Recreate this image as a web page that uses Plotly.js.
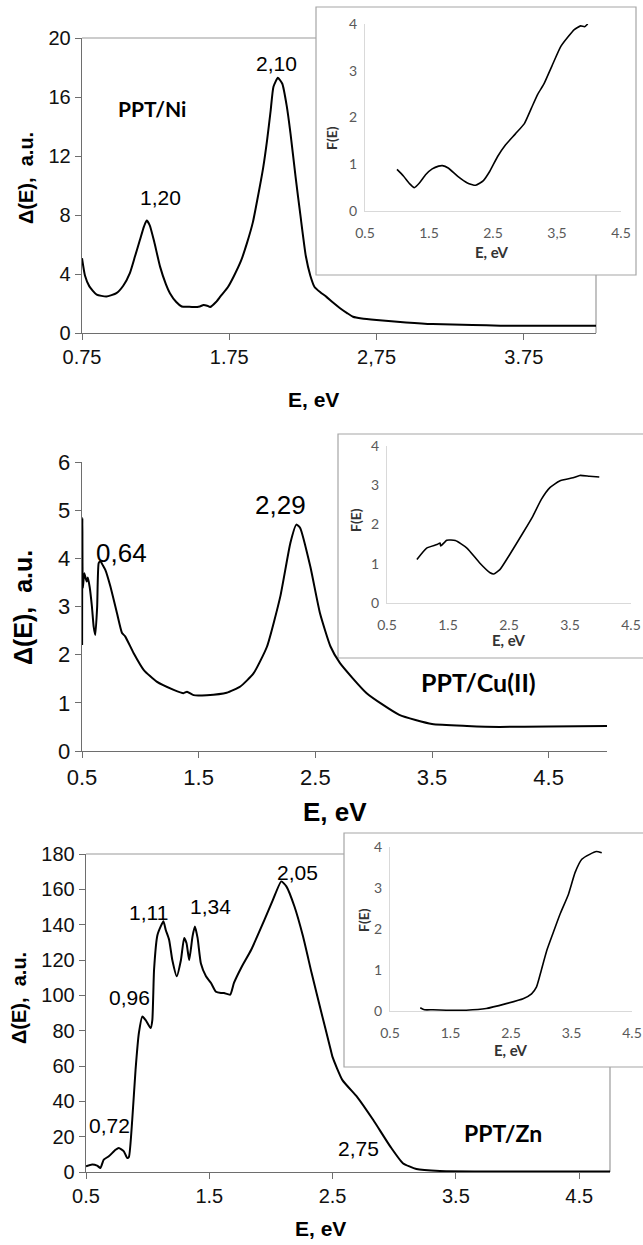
<!DOCTYPE html>
<html><head><meta charset="utf-8">
<script src="https://cdn.plot.ly/plotly-3.0.1.min.js"></script>
<style>html,body{margin:0;padding:0;background:#fff}#chart{width:643px;height:1245px}</style>
</head><body><div id="chart"></div>
<script>
// ---------- DATA ----------
// Panel 1: PPT/Ni
const niE = [0.75,0.77,0.80,0.85,0.916,0.984,1.03,1.075,1.11,1.143,1.17,1.189,1.21,1.24,1.28,1.32,1.347,1.39,1.427,1.47,1.507,1.55,1.575,1.60,1.62,1.66,1.69,1.74,1.78,1.83,1.87,1.91,1.94,1.98,2.007,2.03,2.05,2.08,2.11,2.14,2.166,2.20,2.234,2.27,2.30,2.33,2.37,2.41,2.45,2.50,2.55,2.59,2.65,2.75,2.95,3.13,3.40,3.59,3.90,4.24];
const niD = [5.07,3.9,3.16,2.6,2.48,2.7,3.2,4.06,5.2,6.3,7.2,7.62,7.3,6.2,4.5,3.3,2.7,2.1,1.8,1.78,1.76,1.8,1.9,1.85,1.76,2.1,2.48,3.1,3.83,4.9,6.09,7.5,9.02,11.2,13.1,15.0,16.7,17.3,16.9,15.4,13.5,10.6,7.9,5.2,3.9,3.1,2.75,2.45,2.1,1.7,1.35,1.1,0.98,0.88,0.72,0.61,0.55,0.5,0.5,0.5];
const niInsetE = [1.0,1.1,1.2,1.27,1.35,1.45,1.55,1.65,1.71,1.8,1.95,2.1,2.23,2.35,2.45,2.57,2.7,2.85,2.99,3.1,3.2,3.3,3.42,3.56,3.67,3.77,3.87,3.93,3.98];
const niInsetF = [0.89,0.75,0.58,0.5,0.6,0.78,0.9,0.96,0.97,0.92,0.74,0.6,0.55,0.65,0.85,1.16,1.42,1.65,1.87,2.2,2.5,2.73,3.1,3.52,3.72,3.88,3.96,3.94,4.0];

// Panel 2: PPT/Cu(II)
const cuE = [0.501,0.503,0.507,0.52,0.54,0.55,0.566,0.585,0.60,0.614,0.63,0.643,0.657,0.68,0.70,0.743,0.80,0.843,0.87,0.943,1.03,1.14,1.286,1.37,1.40,1.457,1.57,1.74,1.857,1.97,2.086,2.2,2.286,2.337,2.37,2.457,2.54,2.63,2.71,2.94,3.22,3.5,3.8,4.08,4.5,5.0];
const cuD = [2.2,4.84,3.38,3.69,3.52,3.6,3.4,3.0,2.58,2.41,3.0,3.9,3.94,3.85,3.76,3.42,2.86,2.45,2.38,2.03,1.68,1.44,1.27,1.20,1.23,1.16,1.16,1.21,1.34,1.61,2.17,3.21,4.32,4.70,4.63,3.83,2.86,2.17,1.83,1.2,0.75,0.56,0.52,0.5,0.51,0.52];
const cuInsetE = [0.99,1.15,1.32,1.37,1.38,1.48,1.62,1.81,2.02,2.19,2.25,2.35,2.51,2.73,2.89,3.03,3.17,3.33,3.55,3.66,3.82,3.98];
const cuInsetF = [1.11,1.40,1.49,1.53,1.45,1.6,1.59,1.40,1.02,0.77,0.74,0.85,1.23,1.79,2.21,2.64,2.94,3.11,3.19,3.25,3.23,3.21];

// Panel 3: PPT/Zn
const znE = [0.5,0.55,0.59,0.617,0.644,0.685,0.74,0.766,0.807,0.834,0.848,0.875,0.902,0.929,0.957,0.984,1.024,1.038,1.052,1.079,1.106,1.128,1.147,1.174,1.20,1.236,1.27,1.296,1.315,1.337,1.364,1.383,1.405,1.432,1.473,1.514,1.554,1.595,1.62,1.67,1.70,1.758,1.84,1.948,2.016,2.084,2.125,2.19,2.26,2.33,2.41,2.478,2.50,2.58,2.70,2.83,2.97,3.07,3.18,3.37,3.86,4.75];
const znD = [3.2,4.2,3.6,2.3,7,8.9,12.6,13.6,11.7,7.9,8.5,29.6,57.9,78.7,88,86,81.5,86,114.5,134,139,141.9,137,131.5,120,110.8,120,132.5,129.6,120,133.4,139,132.5,118,110.8,107,102,101.3,101.3,100.4,107,115.5,125.8,142.8,154,164.5,161.7,150.4,133.4,112.6,90,71.1,65,52,42.4,29.4,14.2,5,1.7,0.6,0.3,0.3];
const znInsetE = [1.0,1.07,1.21,1.43,1.76,2.09,2.42,2.70,2.84,2.92,3.0,3.09,3.2,3.31,3.45,3.56,3.67,3.80,3.91,4.0];
const znInsetF = [0.08,0.03,0.03,0.02,0.02,0.06,0.18,0.30,0.42,0.58,0.99,1.47,1.92,2.36,2.85,3.38,3.70,3.82,3.89,3.86];

// Tick labels
const niXVals = [0.75,1.75,2.75,3.75];
const niXText = ["0.75","1.75","2,75","3.75"];
const mainXVals = [0.5,1.5,2.5,3.5,4.5];
const mainXText = ["0.5","1.5","2.5","3.5","4.5"];
const insetXVals = [0.5,1.5,2.5,3.5,4.5];
const inset1XText = ["0.5","1.5","2.5","3,5","4.5"];
const insetXText = ["0.5","1.5","2.5","3.5","4.5"];

// ---------- LAYOUT HELPERS ----------
const W = 643, H = 1245;
const px = x => x / W;
const py = y => 1 - y / H;
const dx = (a, b) => [px(a), px(b)];
const dy = (top, bot) => [py(bot), py(top)];

const MAINFONT = "Liberation Sans, Arial, sans-serif";
const INFONT = "Lato, Open Sans, sans-serif";

function mainX(domain, range, vals, text, size, anchor) {
  return {domain, range, anchor, tickmode:'array', tickvals:vals, ticktext:text,
    showline:true, linecolor:'#6e6e6e', linewidth:1.3, ticks:'outside', ticklen:6, tickcolor:'#6e6e6e',
    showgrid:false, zeroline:false, tickfont:{family:MAINFONT, size, color:'#111'}, fixedrange:true};
}
function mainY(domain, range, dtick, size, anchor) {
  return {domain, range, anchor, tickmode:'linear', tick0:0, dtick,
    showline:true, linecolor:'#6e6e6e', linewidth:1.3, ticks:'outside', ticklen:6, tickcolor:'#6e6e6e',
    showgrid:false, zeroline:false, tickfont:{family:MAINFONT, size, color:'#111'}, fixedrange:true};
}
function inX(domain, text, anchor) {
  return {domain, range:[0.5,4.5], anchor, tickmode:'array', tickvals:insetXVals, ticktext:text,
    showline:true, linecolor:'#d9d9d9', linewidth:1, ticks:'outside', ticklen:9, tickcolor:'rgba(0,0,0,0)',
    showgrid:false, zeroline:false,
    tickfont:{family:INFONT, size:14, color:'#595959'}, fixedrange:true};
}
function inY(domain, anchor) {
  return {domain, range:[0,4], anchor, tickmode:'linear', tick0:0, dtick:1,
    showline:true, linecolor:'#d9d9d9', linewidth:1, ticks:'outside', ticklen:4, tickcolor:'rgba(0,0,0,0)',
    showgrid:false, zeroline:false,
    tickfont:{family:INFONT, size:14, color:'#595959'}, fixedrange:true};
}

const line = (x, y, xa, ya, w) => ({x, y, xaxis:xa, yaxis:ya, type:'scatter', mode:'lines',
  line:{color:'#000', width:w, shape:'spline', smoothing:0.5}, hoverinfo:'skip', showlegend:false});

const data = [
  line(niE, niD, 'x', 'y', 2),
  line(niInsetE, niInsetF, 'x2', 'y2', 1.6),
  line(cuE, cuD, 'x3', 'y3', 2),
  line(cuInsetE, cuInsetF, 'x4', 'y4', 1.6),
  line(znE, znD, 'x5', 'y5', 2),
  line(znInsetE, znInsetF, 'x6', 'y6', 1.6)
];

function txt(x, y, text, size, bold, family, color, angle) {
  return {xref:'paper', yref:'paper', x:px(x), y:py(y), text: bold ? '<b>'+text+'</b>' : text,
    showarrow:false, xanchor:'center', yanchor:'middle', textangle: angle||0,
    font:{family: family||MAINFONT, size, color: color||'#000'}};
}

const annotations = [
  // Panel 1
  txt(160, 197, '1,20', 21), txt(276, 63, '2,10', 21),
  txt(152, 108, 'PPT/Ni', 21, true, INFONT),
  txt(313, 399, 'E, eV', 21, true),
  txt(26, 178, 'Δ(E),  a.u.', 20, true, MAINFONT, '#000', -90),
  txt(332, 138, 'F(E)', 14, true, INFONT, '#333', -90),
  txt(492, 252, 'E, eV', 15, true, INFONT, '#333'),
  // Panel 2
  txt(121, 553, '0,64', 26), txt(280, 505, '2,29', 26),
  txt(478, 682, 'PPT/Cu(II)', 25, true, INFONT),
  txt(335, 812, 'E, eV', 26, true),
  txt(23, 608, 'Δ(E),  a.u.', 25, true, MAINFONT, '#000', -90),
  txt(355, 520, 'F(E)', 14, true, INFONT, '#333', -90),
  txt(509, 640, 'E, eV', 15, true, INFONT, '#333'),
  // Panel 3
  txt(110, 1125, '0,72', 21), txt(129, 997, '0,96', 21), txt(148, 912, '1,11', 21),
  txt(210, 906, '1,34', 21), txt(297, 872, '2,05', 21), txt(358, 1148, '2,75', 21),
  txt(503, 1133, 'PPT/Zn', 23, true, INFONT),
  txt(320, 1228, 'E, eV', 21, true),
  txt(19, 998, 'Δ(E),  a.u.', 20, true, MAINFONT, '#000', -90),
  txt(363, 920, 'F(E)', 14, true, INFONT, '#333', -90),
  txt(511, 1050, 'E, eV', 15, true, INFONT, '#333')
];

const rect = (x0, y0, x1, y1) => ({type:'rect', xref:'paper', yref:'paper', layer:'below',
  x0:px(x0), x1:px(x1), y0:py(y1), y1:py(y0), fillcolor:'#fff', line:{color:'#a6a6a6', width:1.2}});
const seg = (x0, y0, x1, y1) => ({type:'line', xref:'paper', yref:'paper', layer:'below',
  x0:px(x0), x1:px(x1), y0:py(y0), y1:py(y1), line:{color:'#9a9a9a', width:1.2}});

const shapes = [
  // Panel 1 frame (top + right), visible portions
  seg(82, 38, 316, 38), seg(596, 275, 596, 333),
  rect(316, 7, 636, 275),
  // Panel 2 inset box
  rect(338, 434, 650, 658),
  // Panel 3 frame + inset box
  seg(86, 854, 344, 854), seg(610, 1067, 610, 1172),
  rect(344, 833, 650, 1067)
];

const layout = {
  width: W, height: H, margin:{l:0, r:0, t:0, b:0},
  paper_bgcolor:'#fff', plot_bgcolor:'rgba(0,0,0,0)', showlegend:false,
  xaxis:  mainX(dx(82, 596), [0.75, 4.24], niXVals, niXText, 20, 'y'),
  yaxis:  mainY(dy(38, 333), [0, 20], 4, 20, 'x'),
  xaxis2: inX(dx(365, 621), inset1XText, 'y2'),
  yaxis2: inY(dy(24, 211), 'x2'),
  xaxis3: mainX(dx(82, 607), [0.5, 5.0], mainXVals, mainXText, 22, 'y3'),
  yaxis3: mainY(dy(462, 751), [0, 6], 1, 22, 'x3'),
  xaxis4: inX(dx(387, 631), insetXText, 'y4'),
  yaxis4: inY(dy(446, 603), 'x4'),
  xaxis5: mainX(dx(86, 610), [0.5, 4.75], mainXVals, mainXText, 20, 'y5'),
  yaxis5: mainY(dy(854, 1172), [0, 180], 20, 20, 'x5'),
  xaxis6: inX(dx(390, 632), insetXText, 'y6'),
  yaxis6: inY(dy(847, 1011), 'x6'),
  annotations, shapes
};

Plotly.newPlot('chart', data, layout, {staticPlot:true, displayModeBar:false});
</script>
</body></html>
